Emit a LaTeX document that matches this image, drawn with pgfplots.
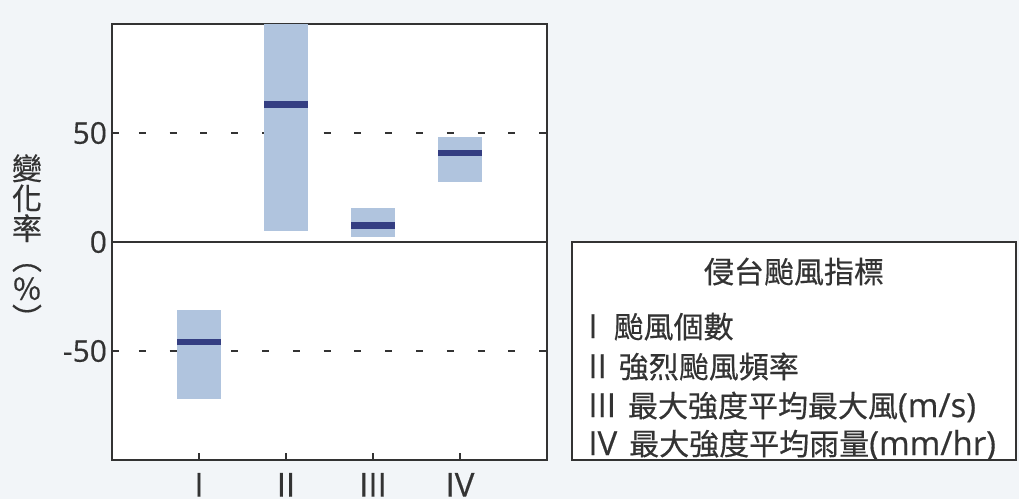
\documentclass[border=0pt]{standalone}
\usepackage{fontspec}
\setmainfont{Open Sans}[FakeBold=0.4]
\newfontfamily\cjk{Noto Sans CJK TC}[FakeBold=0.5]
\usepackage{pgfplots}
\pgfplotsset{compat=1.18}
\usepgfplotslibrary{statistics}

\definecolor{bg}{RGB}{242,245,248}
\definecolor{boxfill}{RGB}{176,196,222}
\definecolor{med}{RGB}{52,62,130}
\definecolor{ink}{RGB}{51,51,51}

\newcommand{\lat}{\normalfont\fontsize{16.5}{20}\selectfont}
\newcommand{\zh}{\cjk\fontsize{15}{18}\selectfont}

\begin{document}
\begin{tikzpicture}
\begin{scope}[x=0.5pt,y=0.5pt]
  \fill[bg] (-112,-39) rectangle (907,460);
\end{scope}
\begin{axis}[
  at={(0,0)}, anchor=south west,
  scale only axis, width=217.5pt, height=218pt,
  xmin=0, xmax=5, ymin=-100, ymax=100,
  axis background/.style={fill=white},
  axis line style={draw=ink, line width=1pt},
  xtick={1,2,3,4}, xticklabels={I,II,III,IV},
  ytick={-50,50}, yticklabels={-50,50},
  extra y ticks={0}, extra y tick labels={0},
  extra y tick style={grid=major, major grid style={solid, draw=ink, line width=1pt}},
  tick align=inside, xtick pos=bottom, ytick pos=left,
  major tick length=3.5pt,
  tick style={draw=ink, line width=0.8pt},
  ymajorgrids,
  grid style={draw=ink, line width=1.2pt, dash pattern=on 3.5pt off 11.9pt, dash phase=2pt},
  xticklabel style={font=\lat, text=ink, yshift=-3pt},
  yticklabel style={font=\normalfont\fontsize{15}{18}\selectfont, text=ink, xshift=1pt},
  boxplot/draw direction=y,
  boxplot/every box/.style={fill=boxfill, draw=none},
  boxplot/every median/.style={draw=med, line width=3.4pt},
  boxplot/every whisker/.style={draw=none},
]
% I: typhoon count
\addplot[boxplot prepared={draw position=1, lower whisker=-71.9, lower quartile=-71.9,
  median=-45.9, upper quartile=-31.3, upper whisker=-31.3, box extend=0.5}] coordinates {};
% II: intense typhoon frequency
\addplot[boxplot prepared={draw position=2, lower whisker=5.1, lower quartile=5.1,
  median=62.9, upper quartile=100, upper whisker=100, box extend=0.5}] coordinates {};
% III: max wind
\addplot[boxplot prepared={draw position=3, lower whisker=2.2, lower quartile=2.2,
  median=7.4, upper quartile=15.5, upper whisker=15.5, box extend=0.5}] coordinates {};
% IV: rainfall
\addplot[boxplot prepared={draw position=4, lower whisker=27.7, lower quartile=27.7,
  median=40.8, upper quartile=48.2, upper whisker=48.2, box extend=0.5}] coordinates {};
\end{axis}
\begin{scope}[x=0.5pt,y=0.5pt]
  \node[align=center, inner sep=0, text=ink, font=\cjk\fontsize{15}{15}\selectfont] at (-85,218)
    {變\\化\\率\\︵\\\%\\︶};
  \draw[ink, line width=1pt, fill=white] (460,0) rectangle (904,218);
  \node[anchor=base, inner sep=0, text=ink, font=\zh] at (682,177) {侵台颱風指標};
  \node[anchor=base west, inner sep=0, text=ink] at (476,122) {\lat I\hspace{8pt}{\zh 颱風個數}};
  \node[anchor=base west, inner sep=0, text=ink] at (476,82) {\lat II\hspace{6pt}{\zh 強烈颱風頻率}};
  \node[anchor=base west, inner sep=0, text=ink] at (476,43) {\lat III\hspace{6pt}{\zh 最大強度平均最大風}(m/s)};
  \node[anchor=base west, inner sep=0, text=ink] at (476,5) {\lat IV\hspace{6pt}{\zh 最大強度平均雨量}(mm/hr)};
\end{scope}
\pgfresetboundingbox
\begin{scope}[x=0.5pt,y=0.5pt]
  \useasboundingbox (-112,-39) rectangle (907,460);
\end{scope}
\end{tikzpicture}
\end{document}
